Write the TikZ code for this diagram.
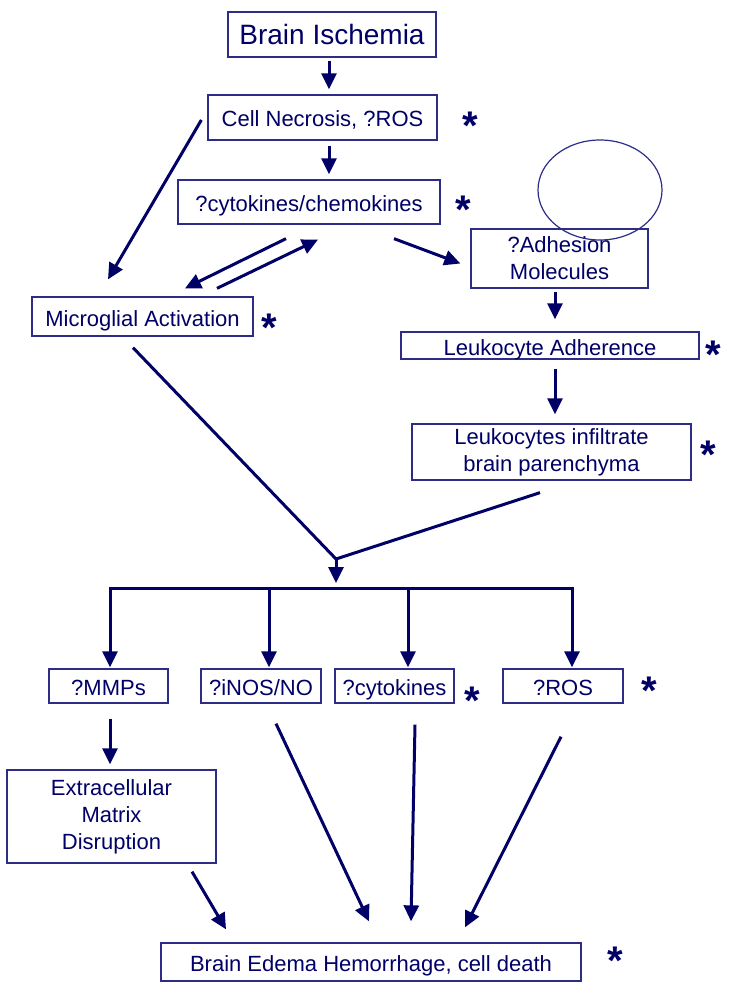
\documentclass[tikz,border=0pt]{standalone}
\usepackage{fontspec}
\setmainfont{Liberation Sans}
\usetikzlibrary{arrows.meta}
\definecolor{navy}{RGB}{0,0,102}
\definecolor{boxline}{RGB}{45,45,135}
\tikzset{
  box/.style={draw=boxline, line width=1.3pt, text=navy, align=center, inner sep=0pt,
    font=\fontsize{22}{27}\selectfont},
  one/.style={text height=19pt, text depth=0pt},
  arr/.style={-{Triangle[length=16pt,width=15pt]}, draw=navy, line width=3pt},
  link/.style={draw=navy, line width=3pt},
  star/.style={text=navy, inner sep=0pt, anchor=north, font=\fontsize{40}{40}\selectfont\bfseries},
}
\begin{document}
\begin{tikzpicture}[x=1pt,y=-1pt]
    \useasboundingbox (0,0) rectangle (729,995);
    % top chain
    \node[box, minimum width=208pt, minimum height=45pt, text height=21pt, text depth=0pt, font=\fontsize{28}{30}\selectfont] (isch) at (332,34.5) {Brain Ischemia};
    \node[box, one, minimum width=229pt, minimum height=45pt] (necro) at (322.5,117.5) {Cell Necrosis, ?ROS};
    \node[box, one, minimum width=262pt, minimum height=44pt] (chemo) at (309,202) {?cytokines/chemokines};
    \node[box, one, minimum width=221pt, minimum height=39pt] (microglia) at (142.5,316.5) {Microglial Activation};
    \draw[boxline, line width=1.2pt] (600,190) ellipse [x radius=62pt, y radius=50pt];
    \node[box, minimum width=177pt, minimum height=59pt] (adhesion) at (559.5,258.5) {?Adhesion\\Molecules};
    \node[box, one, minimum width=298pt, minimum height=27pt] (adherence) at (550,345.5) {Leukocyte Adherence};
    \node[box, minimum width=279pt, minimum height=56pt] (infiltrate) at (551.5,452) {Leukocytes infiltrate\\brain parenchyma};
    % mediators
    \node[box, one, minimum width=119pt, minimum height=34pt] (mmps) at (108.5,686) {?MMPs};
    \node[box, one, minimum width=120pt, minimum height=34pt] (inos) at (261,686) {?iNOS/NO};
    \node[box, one, minimum width=119pt, minimum height=34pt] (cyto) at (394.5,686) {?cytokines};
    \node[box, one, minimum width=120pt, minimum height=34pt] (ros) at (563,686) {?ROS};
    \node[box, minimum width=209pt, minimum height=93pt] (ecm) at (111.5,816.5) {Extracellular\\Matrix\\Disruption};
    \node[box, one, minimum width=420pt, minimum height=38pt] (edema) at (371,962) {Brain Edema Hemorrhage, cell death};
    % stars
    \node[star] (s1) at (470,111.5) {*};
    \node[star] (s2) at (463,195.5) {*};
    \node[star] (s3) at (269,313.5) {*};
    \node[star] (s4) at (713,340.5) {*};
    \node[star] (s5) at (708,440.5) {*};
    \node[star] (s6) at (472,686.5) {*};
    \node[star] (s7) at (649,676.5) {*};
    \node[star] (s8) at (615,946.5) {*};
    % arrows
    \draw[arr] ([xshift=-3pt,yshift=-3pt]isch.south) -- ([xshift=6.5pt,yshift=5pt]necro.north);
    \draw[arr] ([xshift=6.5pt,yshift=-5pt]necro.south) -- ([xshift=20pt,yshift=5pt]chemo.north);
    \draw[arr] ([xshift=-6pt,yshift=-2.5pt]necro.west) -- ([xshift=-34.5pt,yshift=17pt]microglia.north);
    \draw[arr] ([xshift=-23pt,yshift=-14pt]chemo.south) -- ([xshift=42.5pt,yshift=8pt]microglia.north);
    \draw[arr] ([xshift=74.5pt,yshift=8pt]microglia.north) -- ([xshift=9pt,yshift=-15pt]chemo.south);
    \draw[arr] ([xshift=85pt,yshift=-14pt]chemo.south) -- ([xshift=-10pt,yshift=-5pt]adhesion.west);
    \draw[arr] ([xshift=-4.5pt,yshift=-3pt]adhesion.south) -- ([xshift=5pt,yshift=12pt]adherence.north);
    \draw[arr] ([xshift=5pt,yshift=-9pt]adherence.south) -- ([xshift=3.5pt,yshift=9pt]infiltrate.north);
    % merge and split
    \coordinate (jn) at (336,559);
    \coordinate (hub) at (336,583);
    \draw[link, line join=miter] ([xshift=-9.5pt,yshift=-11pt]microglia.south) -- (jn) -- ([xshift=-11.5pt,yshift=-12pt]infiltrate.south);
    \draw[arr] (jn) -- (hub);
    \draw[link, line cap=rect] ([xshift=1.5pt,yshift=80pt]mmps.north) -- ([xshift=9pt,yshift=80pt]ros.north);
    \foreach \n/\dx in {mmps/1.5, inos/8, cyto/13.5, ros/9}
        \draw[arr] ([xshift=\dx pt,yshift=80pt]\n.north) -- ([xshift=\dx pt,yshift=1pt]\n.north);
    % into edema
    \draw[arr] ([xshift=1.5pt,yshift=-15pt]mmps.south) -- ([xshift=-1.5pt,yshift=5pt]ecm.north);
    \draw[arr] ([xshift=80.5pt,yshift=-8pt]ecm.south) -- ([xshift=-145pt,yshift=13pt]edema.north);
    \draw[arr] ([xshift=15pt,yshift=-20pt]inos.south) -- ([xshift=-2pt,yshift=21pt]edema.north);
    \draw[arr] ([xshift=20.5pt,yshift=-21pt]cyto.south) -- ([xshift=40pt,yshift=21pt]edema.north);
    \draw[arr] ([xshift=-2pt,yshift=-33pt]ros.south) -- ([xshift=94pt,yshift=15pt]edema.north);
\end{tikzpicture}
\end{document}
